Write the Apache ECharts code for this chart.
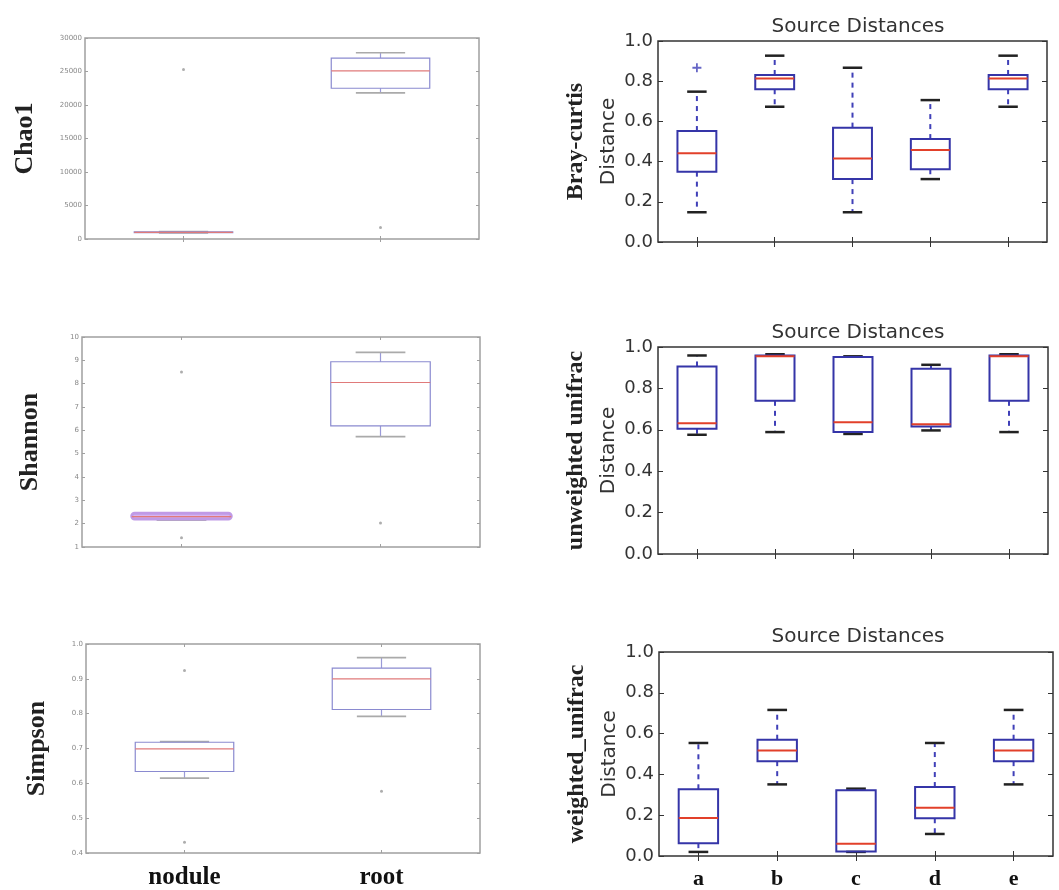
<!DOCTYPE html>
<html>
<head>
<meta charset="utf-8">
<script src="https://cdn.jsdelivr.net/npm/echarts@6/dist/echarts.min.js"></script>
<style>
  html, body { margin: 0; padding: 0; background: #fff; }
  #chart { width: 1059px; height: 890px; }
</style>
</head>
<body>
<div id="chart"></div>
<script>
// alpha diversity, nodule vs root -- each box is [min, q1, median, q3, max]
const sampleTypes = ['nodule', 'root']
const chao1Box = [[900, 950, 1000, 1050, 1100], [21800, 22500, 25100, 27000, 27800]]
const chao1Outliers = [[0, 25300], [1, 1700]]
const shannonBox = [[2.15, 2.2, 2.3, 2.45, 2.45], [5.73, 6.19, 8.05, 8.94, 9.34]]
const shannonOutliers = [[0, 8.5], [0, 1.4], [1, 2.03]]
const simpsonBox = [[0.615, 0.634, 0.699, 0.718, 0.72], [0.792, 0.812, 0.9, 0.931, 0.961]]
const simpsonOutliers = [[0, 0.924], [0, 0.431], [1, 0.577]]

// source distances
const sourceCats = ['a', 'b', 'c', 'd', 'e']
const brayBox = [
  [0.148, 0.35, 0.441, 0.552, 0.748],
  [0.673, 0.76, 0.814, 0.831, 0.927],
  [0.148, 0.313, 0.416, 0.569, 0.867],
  [0.313, 0.362, 0.458, 0.512, 0.706],
  [0.673, 0.76, 0.814, 0.831, 0.927]
]
const brayOutliers = [[0, 0.867]]
const unweightedBox = [
  [0.576, 0.605, 0.632, 0.906, 0.959],
  [0.589, 0.74, 0.955, 0.959, 0.965],
  [0.58, 0.589, 0.637, 0.952, 0.955],
  [0.597, 0.616, 0.627, 0.895, 0.914],
  [0.589, 0.74, 0.955, 0.959, 0.965]
]
const weightedBox = [
  [0.02, 0.063, 0.186, 0.327, 0.554],
  [0.351, 0.465, 0.517, 0.57, 0.716],
  [0.02, 0.022, 0.06, 0.322, 0.33],
  [0.108, 0.185, 0.236, 0.338, 0.554],
  [0.351, 0.465, 0.517, 0.57, 0.716]
]

const faded = { box: '#8a8ad0', median: '#e07a7a', cap: '#aaa', whisker: '#9a9ad8', dash: null, lw: 1.2 }
const sharp = { box: '#3535a8', median: '#e2402a', cap: '#222', whisker: '#4040b8', dash: [5, 5], lw: 2 }

// matplotlib style box: dashed whisker, black cap, red median
function boxRender (st) {
  return function (params, api) {
    const i = api.value(0)
    const lo = api.coord([i, api.value(1)])
    const q1 = api.coord([i, api.value(2)])
    const md = api.coord([i, api.value(3)])
    const q3 = api.coord([i, api.value(4)])
    const hi = api.coord([i, api.value(5)])
    const w = api.size([1, 0])[0] * 0.5
    const cx = lo[0]
    const s = params.dataIndex === 0 && st.firstFill ? st.firstFill : null
    const wStyle = { stroke: st.whisker, lineWidth: st.lw, lineDash: st.dash }
    const cStyle = { stroke: st.cap, lineWidth: st.lw + 0.5 }
    return {
      type: 'group',
      children: [
        { type: 'line', shape: { x1: cx, y1: q1[1], x2: cx, y2: lo[1] }, style: wStyle },
        { type: 'line', shape: { x1: cx, y1: q3[1], x2: cx, y2: hi[1] }, style: wStyle },
        { type: 'line', shape: { x1: cx - w / 4, y1: lo[1], x2: cx + w / 4, y2: lo[1] }, style: cStyle },
        { type: 'line', shape: { x1: cx - w / 4, y1: hi[1], x2: cx + w / 4, y2: hi[1] }, style: cStyle },
        {
          type: 'rect',
          shape: { x: cx - w / 2, y: q3[1], width: w, height: q1[1] - q3[1], r: s ? 4 : 0 },
          style: s ? { fill: s.fill, stroke: s.stroke, lineWidth: 3 } : { fill: 'none', stroke: st.box, lineWidth: st.lw }
        },
        { type: 'line', shape: { x1: cx - w / 2, y1: md[1], x2: cx + w / 2, y2: md[1] }, style: { stroke: st.median, lineWidth: st.lw } }
      ]
    }
  }
}

const grids = []
const xAxes = []
const yAxes = []
const series = []
const plusSym = 'path://M4,0H6V4H10V6H6V10H4V6H0V4H4Z'

function panel (p) {
  const g = grids.length
  const sharpStyle = p.style !== faded && p.style.lw > 1.5
  const lineCol = sharpStyle ? '#333' : '#a0a0a0'
  grids.push({ left: p.left, top: p.top, width: p.width, height: p.height, show: true, borderColor: lineCol, borderWidth: 1.5 })
  const tick = { show: true, inside: true, length: sharpStyle ? 5 : 3, alignWithLabel: true, lineStyle: { color: lineCol } }
  xAxes.push({
    type: 'category', gridIndex: g, data: p.cats, position: 'bottom',
    axisLine: { show: false }, axisTick: tick,
    axisLabel: p.xLabels ? { show: true, margin: 12, fontFamily: 'Liberation Serif', fontWeight: 'bold', fontSize: p.xFont, color: '#111' } : { show: false }
  })
  xAxes.push({
    type: 'category', gridIndex: g, data: p.cats, position: 'top',
    axisLine: { show: false }, axisTick: tick, axisLabel: { show: false }
  })
  yAxes.push({
    type: 'value', gridIndex: g, min: p.min, max: p.max, interval: p.interval, position: 'left',
    splitLine: { show: false }, axisLine: { show: false }, axisTick: tick,
    axisLabel: sharpStyle
      ? { fontFamily: 'DejaVu Sans', fontSize: 18, color: '#333', margin: 5, formatter: v => v.toFixed(1) }
      : { fontFamily: 'DejaVu Sans', fontSize: 7, color: '#888', margin: 3, formatter: p.fmt },
    name: p.name, nameLocation: 'middle', nameRotate: 90, nameGap: p.nameGap,
    nameTextStyle: p.nameStyle
  })
  yAxes.push({
    type: 'value', gridIndex: g, min: p.min, max: p.max, interval: p.interval, position: 'right',
    splitLine: { show: false }, axisLine: { show: false }, axisTick: tick, axisLabel: { show: false }
  })
  series.push({
    type: 'custom', xAxisIndex: g * 2, yAxisIndex: g * 2,
    renderItem: boxRender(p.style),
    encode: { x: 0, y: [1, 2, 3, 4, 5] },
    data: p.box.map((b, i) => [i].concat(b)),
    z: 2
  })
  if (p.outliers) {
    series.push({
      type: 'scatter', xAxisIndex: g * 2, yAxisIndex: g * 2,
      symbol: sharpStyle ? plusSym : 'circle', symbolSize: sharpStyle ? 9 : 3,
      itemStyle: { color: sharpStyle ? '#4040b8' : '#999' },
      data: p.outliers, z: 3
    })
  }
}

const leftName = { fontFamily: 'Liberation Serif', fontWeight: 'bold', fontSize: 26, color: '#222' }
const rightName = {
  rich: {
    s: { fontFamily: 'Liberation Serif', fontWeight: 'bold', fontSize: 24, color: '#222', lineHeight: 40 },
    d: { fontFamily: 'DejaVu Sans', fontSize: 20, color: '#333', lineHeight: 26 }
  }
}

const shannonStyle = Object.assign({}, faded, { firstFill: { fill: '#d6b4f0', stroke: '#c09ae6' } })

panel({ left: 85, top: 38, width: 394, height: 201, cats: sampleTypes, box: chao1Box, outliers: chao1Outliers,
  min: 0, max: 30000, interval: 5000, style: faded, fmt: v => v, name: 'Chao1', nameGap: 47, nameStyle: leftName })
panel({ left: 82, top: 337, width: 398, height: 210, cats: sampleTypes, box: shannonBox, outliers: shannonOutliers,
  min: 1, max: 10, interval: 1, style: shannonStyle, fmt: v => v, name: 'Shannon', nameGap: 39, nameStyle: leftName })
panel({ left: 86, top: 644, width: 394, height: 211, cats: sampleTypes, box: simpsonBox, outliers: simpsonOutliers,
  min: 0.4, max: 1.0, interval: 0.1, style: faded, fmt: v => v.toFixed(1), name: 'Simpson', nameGap: 36, nameStyle: leftName,
  xLabels: true, xFont: 25 })

panel({ left: 658, top: 41, width: 389, height: 201, cats: sourceCats, box: brayBox, outliers: brayOutliers,
  min: 0, max: 1, interval: 0.2, style: sharp, name: '{s|Bray-curtis}\n{d|Distance}', nameGap: 36, nameStyle: rightName })
panel({ left: 658, top: 347, width: 390, height: 207, cats: sourceCats, box: unweightedBox,
  min: 0, max: 1, interval: 0.2, style: sharp, name: '{s|unweighted unifrac}\n{d|Distance}', nameGap: 36, nameStyle: rightName })
panel({ left: 659, top: 652, width: 394, height: 205, cats: sourceCats, box: weightedBox,
  min: 0, max: 1, interval: 0.2, style: sharp, name: '{s|weighted_unifrac}\n{d|Distance}', nameGap: 36, nameStyle: rightName,
  xLabels: true, xFont: 22 })

const titleTops = [12, 318, 622]
const option = {
  animation: false,
  backgroundColor: '#fff',
  title: titleTops.map(t => ({
    text: 'Source Distances', left: 853, top: t, textAlign: 'center',
    textStyle: { fontFamily: 'DejaVu Sans', fontWeight: 'normal', fontSize: 20, color: '#333' }
  })),
  grid: grids,
  xAxis: xAxes,
  yAxis: yAxes,
  series: series
}

const myChart = echarts.init(document.getElementById('chart'))
myChart.setOption(option)
</script>
</body>
</html>
